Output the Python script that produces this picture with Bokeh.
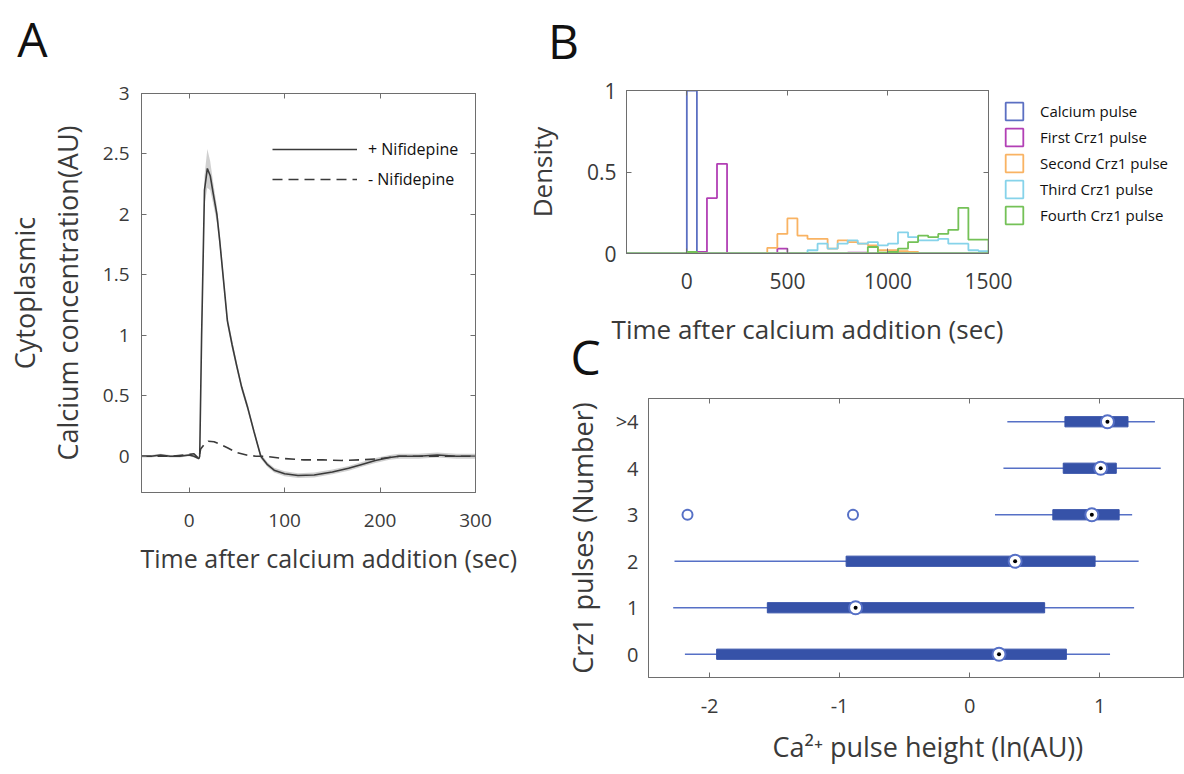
from bokeh.plotting import figure
from bokeh.models import (Range1d, FactorRange, LinearAxis, FixedTicker, Title, Label,
                          Legend, LegendItem, NumeralTickFormatter)
from bokeh.embed import file_html
from bokeh.resources import INLINE

FONT = "Open Sans"
TXT = "#3a3a3a"
FRAME = "#6e6e6e"

# ---------------- Panel A data ----------------
time_plus = [-50, -40, -30, -20, -10, 0, 5, 10, 11, 13, 16, 19, 22, 25, 29, 32, 36, 40, 45,
             50, 55, 61, 68, 75, 82, 89, 100, 114, 131, 150, 167, 180, 195, 210, 220,
             240, 260, 280, 300]
conc_plus = [0.0, 0.0, 0.01, 0.0, 0.0, 0.01, 0.0, -0.02, 0.0, 1.0, 2.2, 2.38, 2.32, 2.18, 2.0,
             1.78, 1.45, 1.12, 0.92, 0.74, 0.57, 0.41, 0.2, 0.0, -0.07, -0.115, -0.145,
             -0.16, -0.155, -0.13, -0.10, -0.07, -0.035, -0.01, 0.0, 0.0, 0.01, 0.0, 0.0]
sem_plus = [0.01, 0.01, 0.01, 0.01, 0.01, 0.01, 0.01, 0.01, 0.02, 0.08, 0.12, 0.16, 0.12, 0.09,
            0.07, 0.06, 0.05, 0.04, 0.04, 0.03, 0.03, 0.03, 0.02, 0.02, 0.02, 0.02, 0.02,
            0.02, 0.02, 0.02, 0.02, 0.02, 0.02, 0.02, 0.02, 0.02, 0.02, 0.02, 0.02]
time_minus = [-50, -35, -20, -5, 5, 10, 12, 16, 20, 26, 32, 40, 50, 60, 70, 80, 100, 120, 140,
              160, 180, 200, 220, 250, 275, 300]
conc_minus = [0.0, 0.0, 0.0, 0.01, 0.02, -0.02, 0.06, 0.10, 0.124, 0.12, 0.10, 0.07, 0.03,
              0.01, 0.0, 0.0, -0.02, -0.03, -0.03, -0.035, -0.03, -0.02, 0.0, 0.0, 0.0, 0.0]
legend_a = ["+ Nifidepine", "- Nifidepine"]

# ---------------- Panel B data ----------------
bin_start = -300
bin_width = 50
hist_labels = ["Calcium pulse", "First Crz1 pulse", "Second Crz1 pulse",
               "Third Crz1 pulse", "Fourth Crz1 pulse"]
hist_colors = ["#5b6fc2", "#b23fb5", "#f9b363", "#86d3ea", "#74c157"]
pre_zero_bins = [0, 0, 0, 0, 0, 0]   # bins from -300 to 0
density_calcium = [1.0, 0, 0, 0, 0, 0, 0, 0, 0, 0, 0, 0, 0, 0, 0,
                   0, 0, 0, 0, 0, 0, 0, 0, 0, 0, 0, 0, 0, 0, 0]
density_first = [0.01, 0.01, 0.34, 0.55, 0, 0, 0, 0, 0, 0.03, 0, 0, 0, 0, 0,
                 0, 0.005, 0.005, 0, 0, 0.005, 0, 0, 0, 0, 0, 0, 0, 0, 0]
density_second = [0, 0, 0, 0, 0, 0, 0, 0, 0.035, 0.12, 0.215, 0.11, 0.09, 0.09, 0.03,
                  0.08, 0.07, 0.06, 0.05, 0.02, 0.02, 0.015, 0.01, 0, 0, 0, 0, 0, 0, 0]
density_third = [0, 0, 0, 0, 0, 0, 0, 0, 0, 0, 0, 0, 0.02, 0.06, 0.03,
                 0.06, 0.08, 0.06, 0.07, 0.05, 0.06, 0.13, 0.10, 0.08, 0.08, 0.09, 0.06, 0.06, 0.02, 0.015]
density_fourth = [0.01, 0, 0, 0, 0, 0, 0, 0, 0, 0, 0, 0, 0, 0, 0,
                  0, 0, 0, 0.04, 0.005, 0.01, 0.03, 0.07, 0.11, 0.10, 0.12, 0.145, 0.28, 0.085, 0.085]
hist_series = [density_calcium, density_first, density_second, density_third, density_fourth]

# ---------------- Panel C data ----------------
pulse_groups = ["0", "1", "2", "3", "4", ">4"]
whisker_low = [-2.19, -2.28, -2.27, 0.195, 0.26, 0.29]
quart_1 = [-1.946, -1.556, -0.95, 0.64, 0.72, 0.733]
medians = [0.226, -0.877, 0.35, 0.94, 1.008, 1.06]
quart_3 = [0.744, 0.577, 0.965, 1.15, 1.128, 1.218]
whisker_high = [1.08, 1.265, 1.30, 1.25, 1.47, 1.425]
outlier_x = [-2.17, -0.897]
outlier_group = ["3", "3"]

panel_letters = ["A", "B", "C"]


def style_axis(ax, size="19px", labels=True, standoff=10):
    ax.axis_line_color = FRAME
    ax.major_tick_line_color = FRAME
    ax.major_tick_in = 5
    ax.major_tick_out = 0
    ax.minor_tick_line_color = None
    ax.major_label_text_font = FONT
    ax.major_label_standoff = standoff
    if labels:
        ax.major_label_text_font_size = size
        ax.major_label_text_color = TXT
    else:
        ax.major_label_text_font_size = "1px"
        ax.major_label_text_color = None
        ax.major_label_standoff = 0
    ax.axis_label_text_font = FONT
    ax.axis_label_text_font_style = "normal"
    ax.axis_label_text_color = TXT


def side_title(text, size, standoff, align="center", offset=0):
    return Title(text=text, align=align, offset=offset, standoff=standoff,
                 text_font=FONT, text_font_size=size, text_font_style="normal",
                 text_color=TXT)


def place(p, left, top):
    p.styles = {"position": "absolute", "left": f"{left}px", "top": f"{top}px"}


def step_outline(dens):
    full = pre_zero_bins + dens
    edges = [bin_start + bin_width * i for i in range(len(full) + 1)]
    xs = [edges[0]]
    ys = [0]
    for i, d in enumerate(full):
        xs += [edges[i], edges[i + 1]]
        ys += [d, d]
    xs.append(edges[-1])
    ys.append(0)
    return xs, ys


def letter_canvas(text, cx, cy):
    p = figure(width=70, height=70, x_range=Range1d(0, 1), y_range=Range1d(0, 1),
               output_backend="svg", toolbar_location=None, x_axis_type=None, y_axis_type=None,
               min_border=0)
    place(p, cx - 35, cy - 35)
    p.outline_line_color = None
    p.grid.visible = False
    p.border_fill_alpha = 0
    p.background_fill_alpha = 0
    p.add_layout(Label(x=0.5, y=0.5, text=text, text_font=FONT, text_font_size="48px",
                       text_color="#111111", text_align="center", text_baseline="middle"))
    return p


# ================= Panel A =================
pA = figure(width=520, height=770, x_range=Range1d(-50, 300), y_range=Range1d(-0.3, 3),
            output_backend="svg", toolbar_location=None,
            min_border_left=141, min_border_right=45, min_border_top=93, min_border_bottom=278)
place(pA, 0, 0)
pA.outline_line_color = FRAME
pA.grid.visible = False
xt_a = FixedTicker(ticks=[0, 100, 200, 300])
yt_a = FixedTicker(ticks=[0, 0.5, 1, 1.5, 2, 2.5, 3])
pA.xaxis.ticker = xt_a
pA.yaxis.ticker = yt_a
pA.yaxis.formatter = NumeralTickFormatter(format="0.[0]")
style_axis(pA.xaxis[0], standoff=21)
style_axis(pA.yaxis[0], standoff=12)
pA.yaxis[0].axis_label = "Cytoplasmic\nCalcium concentration(AU)"
pA.yaxis[0].axis_label_text_font_size = "27px"
pA.yaxis[0].axis_label_text_line_height = 1.15
pA.yaxis[0].axis_label_standoff = 14
pA.add_layout(LinearAxis(ticker=xt_a), "above")
pA.add_layout(LinearAxis(ticker=yt_a), "right")
style_axis(pA.above[0], labels=False)
style_axis(pA.right[0], labels=False)

upper = [c + s for c, s in zip(conc_plus, sem_plus)]
lower = [c - s for c, s in zip(conc_plus, sem_plus)]
pA.varea(x=time_plus, y1=lower, y2=upper, fill_color="#c4c4c4", fill_alpha=0.8)
r_minus = pA.line(time_minus, conc_minus, line_color="#3a3a3a", line_width=1.6, line_dash="10 6")
r_plus = pA.line(time_plus, conc_plus, line_color="#3a3a3a", line_width=1.6)

legA = Legend(items=[LegendItem(label=legend_a[0], renderers=[r_plus]),
                     LegendItem(label=legend_a[1], renderers=[r_minus])],
              location=(131, 302), glyph_width=85, glyph_height=20, label_height=20,
              spacing=8, padding=0, margin=0, label_standoff=11,
              label_text_font=FONT, label_text_font_size="16px", label_text_color="#111111",
              border_line_color=None, background_fill_alpha=0)
pA.add_layout(legA)
pA.add_layout(side_title("Time after calcium addition (sec)", "25px", 18, align="left", offset=-1), "below")

# ================= Panel B =================
pB = figure(width=664, height=353, x_range=Range1d(-300, 1500), y_range=Range1d(0, 1),
            output_backend="svg", toolbar_location=None,
            min_border_left=103, min_border_right=196, min_border_top=90, min_border_bottom=100)
place(pB, 520, 0)
pB.outline_line_color = FRAME
pB.grid.visible = False
xt_b = FixedTicker(ticks=[0, 500, 1000, 1500])
yt_b = FixedTicker(ticks=[0, 0.5, 1])
pB.xaxis.ticker = xt_b
pB.yaxis.ticker = yt_b
pB.yaxis.formatter = NumeralTickFormatter(format="0.[0]")
style_axis(pB.xaxis[0], size="21px", standoff=19)
style_axis(pB.yaxis[0], size="21px", standoff=10)
pB.xaxis[0].axis_label = "Time after calcium addition (sec)"
pB.xaxis[0].axis_label_text_font_size = "26px"
pB.xaxis[0].axis_label_standoff = 19
pB.yaxis[0].axis_label = "Density"
pB.yaxis[0].axis_label_text_font_size = "26px"
pB.yaxis[0].axis_label_standoff = 24
pB.add_layout(LinearAxis(ticker=xt_b), "above")
pB.add_layout(LinearAxis(ticker=yt_b), "right")
style_axis(pB.above[0], labels=False)
style_axis(pB.right[0], labels=False)

for color, dens in zip(hist_colors, hist_series):
    xs, ys = step_outline(dens)
    pB.patch(xs, ys, fill_alpha=0, line_color=color, line_width=1.8)

# legend of panel B (drawn in its own transparent canvas right of the frame)
pL = figure(width=183, height=132, x_range=Range1d(5000, 5001), y_range=Range1d(5, 6),
            output_backend="svg", toolbar_location=None, x_axis_type=None, y_axis_type=None,
            min_border=0)
place(pL, 1001, 98)
pL.outline_line_color = None
pL.grid.visible = False
pL.border_fill_alpha = 0
pL.background_fill_alpha = 0
items_b = []
for label, color, dens in zip(hist_labels, hist_colors, hist_series):
    xs, ys = step_outline(dens)
    r = pL.patch(xs, ys, fill_alpha=0, line_color=color, line_width=1.8)
    items_b.append(LegendItem(label=label, renderers=[r]))
legB = Legend(items=items_b, location="top_left", glyph_width=22, glyph_height=22,
              label_height=22, spacing=4, padding=0, margin=2, label_standoff=15,
              label_text_font=FONT, label_text_font_size="15px", label_text_color="#111111",
              border_line_color=None, background_fill_alpha=0)
pL.add_layout(legB)

# ================= Panel C =================
BLUE = "#3652a8"
BLUE_L = "#5670c6"
pC = figure(width=639, height=449, x_range=Range1d(-2.47, 1.645), y_range=FactorRange(*pulse_groups),
            output_backend="svg", toolbar_location=None,
            min_border_left=103, min_border_right=1, min_border_top=73, min_border_bottom=97)
place(pC, 545, 325)
pC.border_fill_alpha = 0
pC.outline_line_color = FRAME
pC.grid.visible = False
xt_c = FixedTicker(ticks=[-2, -1, 0, 1])
pC.xaxis.ticker = xt_c
pC.xaxis.formatter = NumeralTickFormatter(format="0")
style_axis(pC.xaxis[0], size="20px", standoff=21)
style_axis(pC.yaxis[0], size="20px", standoff=10)
pC.yaxis[0].major_tick_line_color = None
pC.yaxis[0].axis_label = "Crz1 pulses (Number)"
pC.yaxis[0].axis_label_text_font_size = "27px"
pC.yaxis[0].axis_label_standoff = 12
pC.add_layout(LinearAxis(ticker=xt_c), "above")
style_axis(pC.above[0], labels=False)

pC.segment(x0=whisker_low, y0=pulse_groups, x1=whisker_high, y1=pulse_groups,
           line_color=BLUE_L, line_width=1.6)
pC.hbar(y=pulse_groups, left=quart_1, right=quart_3, height=0.22,
        fill_color=BLUE, line_color=BLUE)
pC.scatter(x=medians, y=pulse_groups, marker="circle", size=13, fill_color="white",
           line_color=BLUE_L, line_width=2)
pC.scatter(x=medians, y=pulse_groups, marker="circle", size=4, fill_color="black", line_color=None)
pC.scatter(x=outlier_x, y=outlier_group, marker="circle", size=10, fill_color="white",
           line_color=BLUE_L, line_width=2)
pC.add_layout(side_title("Ca\u00b2\u207a pulse height (ln(AU))", "27px", 20, align="left", offset=124), "below")

# ================= Panel letters =================
pLA = letter_canvas(panel_letters[0], 32, 38)
pLB = letter_canvas(panel_letters[1], 563, 40)
pLC = letter_canvas(panel_letters[2], 585, 356)

open("out.html", "w").write(file_html([pA, pB, pL, pC, pLA, pLB, pLC], INLINE))
